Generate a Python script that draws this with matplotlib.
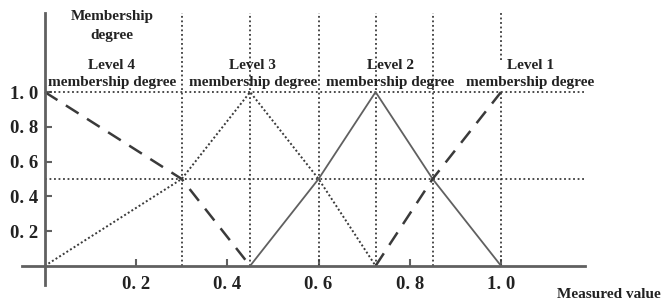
import matplotlib.pyplot as plt

# membership functions (measured value -> membership degree)
level4_x = [0, 0.3, 0.45]
level4_y = [1.0, 0.5, 0.0]
level3_x = [0, 0.3, 0.45, 0.6, 0.725]
level3_y = [0.0, 0.5, 1.0, 0.5, 0.0]
level2_x = [0.45, 0.6, 0.725, 0.85, 1.0]
level2_y = [0.0, 0.5, 1.0, 0.5, 0.0]
level1_x = [0.725, 0.85, 1.0]
level1_y = [0.0, 0.5, 1.0]

breakpoints = [0.3, 0.45, 0.6, 0.725, 0.85, 1.0]
guide_levels = [1.0, 0.5]

level_names = ["Level 4", "Level 3", "Level 2", "Level 1"]
label_x = [0.147, 0.456, 0.757, 1.064]

ticks = [0.2, 0.4, 0.6, 0.8, 1.0]
tick_labels = ["0. 2", "0. 4", "0. 6", "0. 8", "1. 0"]

dark = "#3a3a3a"
grey = "#606060"
serif = "Liberation Serif"

fig = plt.figure(figsize=(6.62, 3.04), dpi=100)
ax = fig.add_axes([0.0332, 0.0625, 0.8505, 0.895])
ax.set_xlim(-0.05, 1.184)
ax.set_ylim(-0.11, 1.455)

# guide lines
for y in guide_levels:
    ax.hlines(y, 0, 1.184, colors=dark, linestyles=(0, (1, 1.5)), lw=1.3)
for x in breakpoints:
    if x == 1.0:
        ax.vlines(x, 0, 1.0, colors=dark, linestyles=(0, (1, 1.5)), lw=1.3)
        ax.vlines(x, 1.184, 1.455, colors=dark, linestyles=(0, (1, 1.5)), lw=1.3)
    else:
        ax.vlines(x, 0, 1.455, colors=dark, linestyles=(0, (1, 1.5)), lw=1.3)

# membership curves
ax.plot(level4_x, level4_y, color=dark, lw=1.8, ls=(0, (6, 4)))
ax.plot(level3_x, level3_y, color=dark, lw=1.4, ls=(0, (1, 1.2)))
ax.plot(level2_x, level2_y, color=grey, lw=1.3, ls="-")
ax.plot(level1_x, level1_y, color=dark, lw=1.8, ls=(0, (6, 4)))

for name, x in zip(level_names, label_x):
    ax.text(x, 1.02, name + "\nmembership degree", ha="center", va="bottom",
            fontsize=11, fontweight="bold", family=serif, color="#222222",
            linespacing=1.4)

ax.text(0.147, 1.29, "Membership\ndegree", ha="center", va="bottom",
        fontsize=11, fontweight="bold", family=serif, color="#222222",
        linespacing=1.55)
fig.text(0.998, 0.03, "Measured value", ha="right", va="center",
         fontsize=11, fontweight="bold", family=serif, color="#222222")

# axes through the origin
for side in ["top", "right"]:
    ax.spines[side].set_visible(False)
ax.spines["left"].set_position(("data", 0))
ax.spines["bottom"].set_position(("data", 0))
for side in ["left", "bottom"]:
    ax.spines[side].set_color(grey)
    ax.spines[side].set_linewidth(2)

ax.set_xticks(ticks)
ax.set_xticklabels(tick_labels)
ax.set_yticks(ticks)
ax.set_yticklabels(tick_labels)
ax.tick_params(direction="in", length=5, width=1.5, color=grey,
               labelsize=13.5)
ax.tick_params(axis="x", pad=7)
ax.tick_params(axis="y", pad=5)
for lab in ax.get_xticklabels() + ax.get_yticklabels():
    lab.set_fontweight("bold")
    lab.set_family(serif)
    lab.set_color("#222222")

fig.savefig("out.png", dpi=100)
